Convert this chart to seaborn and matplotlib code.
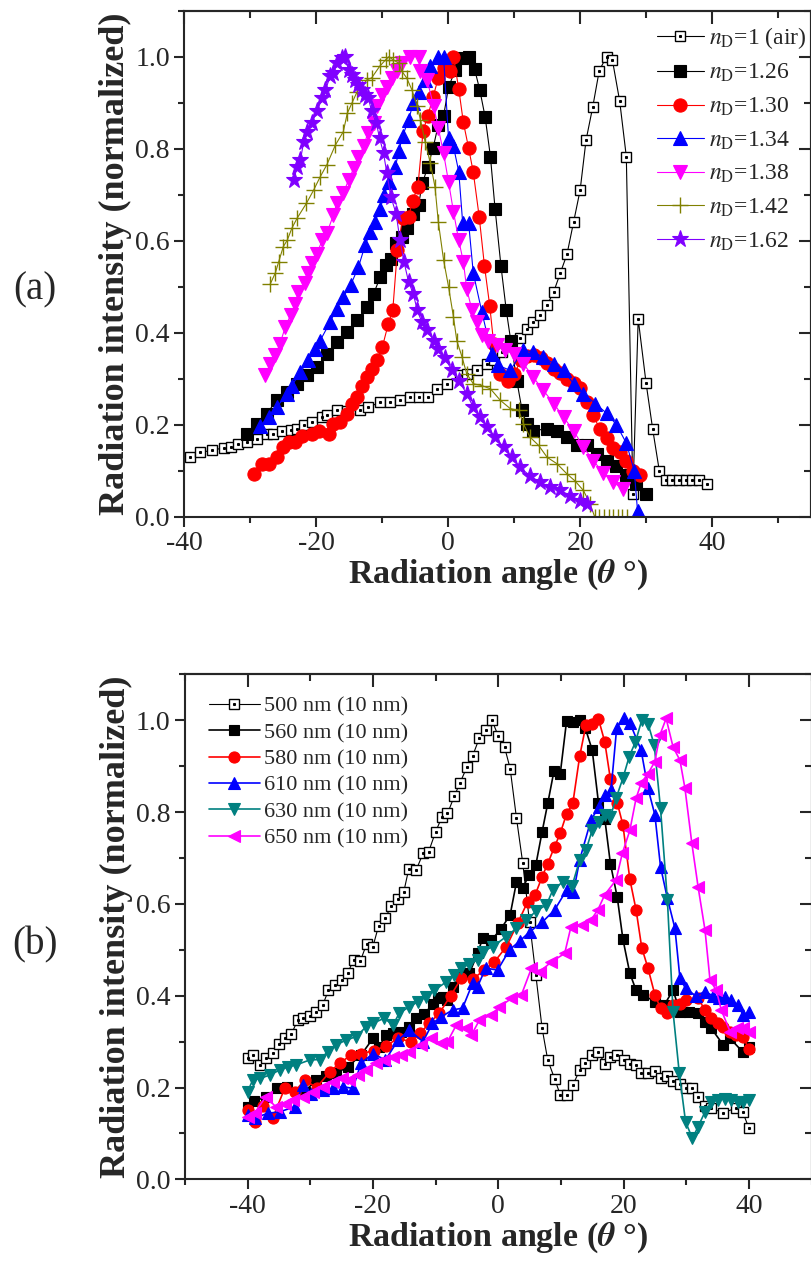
import numpy as np
import pandas as pd
import matplotlib
matplotlib.use("Agg")
import matplotlib.pyplot as plt
from matplotlib.ticker import MultipleLocator, FuncFormatter
from matplotlib.legend_handler import HandlerTuple
import seaborn as sns

# ---------------- panel (a): refractive index series ----------------
air_x = [-39.1, -37.6, -35.8, -34.0, -33.0, -31.8, -30.5, -29.0, -27.5, -26.5, -25.2, -23.9,
         -22.9, -21.9, -20.7, -19.2, -18.4, -16.9, -15.3, -13.3, -12.1, -10.3, -8.8, -7.3,
         -5.8, -4.5, -3.0, -1.7, -0.2, 1.8, 2.8, 4.3, 5.9, 6.9, 8.1, 9.4, 10.9, 11.9, 12.9,
         13.9, 15.0, 16.0, 17.0, 18.0, 19.0, 20.0, 20.9, 21.9, 22.9, 24.0, 24.9, 26.0, 27.0,
         28.0, 28.8, 30.0, 31.0, 32.0, 33.0, 34.0, 35.0, 36.0, 37.0, 38.0, 39.3]
air_y = [0.129, 0.140, 0.144, 0.150, 0.151, 0.158, 0.162, 0.169, 0.180, 0.180, 0.187, 0.189,
         0.191, 0.200, 0.205, 0.216, 0.220, 0.231, 0.230, 0.231, 0.238, 0.249, 0.249, 0.253,
         0.260, 0.260, 0.260, 0.278, 0.289, 0.307, 0.311, 0.318, 0.333, 0.340, 0.358, 0.376,
         0.389, 0.409, 0.423, 0.438, 0.460, 0.489, 0.530, 0.570, 0.640, 0.710, 0.819, 0.890,
         0.970, 1.000, 0.992, 0.903, 0.783, 0.050, 0.430, 0.290, 0.190, 0.100, 0.080, 0.080,
         0.080, 0.080, 0.080, 0.080, 0.070]

n126_x = [-30.5, -29.0, -27.5, -26.0, -24.4, -22.9, -21.4, -19.9, -18.4, -16.9, -15.3, -13.8,
          -12.3, -11.3, -10.3, -9.4, -8.7, -7.9, -7.0, -6.3, -5.3, -4.5, -3.9, -3.1, -2.3,
          -1.5, -0.7, 0.05, 1.1, 2.1, 3.2, 4.0, 4.8, 5.6, 6.4, 7.1, 8.0, 8.8, 9.5, 10.4, 11.2,
          11.9, 12.9, 15.0, 16.5, 18.0, 19.5, 21.0, 22.5, 24.0, 25.5, 27.0, 28.5, 30.0]
n126_y = [0.180, 0.202, 0.224, 0.253, 0.271, 0.289, 0.307, 0.325, 0.354, 0.380, 0.401, 0.427,
          0.456, 0.485, 0.521, 0.547, 0.561, 0.594, 0.609, 0.627, 0.659, 0.678, 0.725, 0.761,
          0.801, 0.852, 0.871, 0.934, 0.972, 0.997, 1.000, 0.973, 0.927, 0.869, 0.783, 0.670,
          0.545, 0.449, 0.381, 0.296, 0.231, 0.202, 0.187, 0.191, 0.187, 0.173, 0.155, 0.155,
          0.137, 0.120, 0.110, 0.090, 0.070, 0.050]

n130_x = [-29.5, -28.2, -27.2, -26.0, -25.0, -24.2, -23.2, -22.2, -20.7, -19.6, -18.1, -17.4,
          -16.4, -15.3, -14.6, -13.8, -13.1, -12.3, -11.6, -10.8, -10.0, -9.1, -8.4, -7.7,
          -6.9, -6.0, -5.4, -4.6, -3.8, -3.1, -2.3, -1.5, -0.7, 0.2, 0.8, 1.6, 2.3, 3.1, 3.8,
          4.7, 5.5, 6.3, 6.9, 7.9, 9.1, 10.0, 11.0, 12.0, 13.0, 14.0, 15.0, 16.0, 17.0, 18.0,
          19.0, 20.0, 21.0, 22.0, 23.0, 24.0, 25.0, 26.0, 27.0, 28.0, 29.0]
n130_y = [0.093, 0.115, 0.115, 0.129, 0.151, 0.162, 0.162, 0.176, 0.180, 0.187, 0.180, 0.202,
          0.205, 0.224, 0.246, 0.260, 0.285, 0.303, 0.322, 0.340, 0.368, 0.418, 0.449, 0.580,
          0.649, 0.652, 0.687, 0.717, 0.839, 0.871, 0.912, 0.954, 0.975, 0.968, 1.000, 0.930,
          0.857, 0.801, 0.749, 0.652, 0.545, 0.458, 0.376, 0.311, 0.296, 0.310, 0.340, 0.350,
          0.352, 0.345, 0.335, 0.322, 0.312, 0.300, 0.290, 0.280, 0.250, 0.220, 0.190, 0.170,
          0.150, 0.140, 0.120, 0.100, 0.090]

n134_x = [-28.5, -27.2, -26.0, -24.4, -23.7, -22.4, -21.2, -20.2, -19.4, -17.9, -16.9, -15.9,
          -14.8, -13.6, -12.6, -11.8, -11.1, -10.3, -9.7, -9.0, -8.0, -7.5, -6.9, -6.0, -5.3,
          -4.5, -3.5, -2.7, -1.5, -0.7, 0.05, 0.8, 1.6, 2.2, 3.1, 3.8, 5.1, 6.6, 7.6, 9.4,
          11.4, 12.9, 14.4, 16.0, 17.5, 19.0, 20.5, 22.3, 24.0, 25.5, 27.0, 28.2, 28.7]
n134_y = [0.198, 0.216, 0.238, 0.267, 0.285, 0.314, 0.340, 0.365, 0.383, 0.423, 0.452, 0.478,
          0.503, 0.543, 0.590, 0.619, 0.641, 0.670, 0.699, 0.728, 0.761, 0.794, 0.828, 0.863,
          0.899, 0.924, 0.950, 0.979, 1.000, 1.000, 0.823, 0.805, 0.750, 0.638, 0.638, 0.530,
          0.445, 0.354, 0.329, 0.318, 0.362, 0.358, 0.347, 0.333, 0.318, 0.289, 0.267, 0.246,
          0.225, 0.200, 0.160, 0.100, 0.013]

n138_x = [-27.7, -27.0, -26.2, -25.5, -24.7, -23.9, -23.2, -22.7, -21.7, -21.2, -20.7, -19.9,
          -19.1, -18.4, -17.4, -16.9, -15.9, -15.1, -14.3, -13.6, -12.8, -12.2, -11.3, -10.8,
          -10.0, -9.3, -8.5, -7.8, -7.0, -5.8, -4.5, -4.2, -3.2, -2.2, -1.5, -0.7, 0.05, 0.8,
          1.6, 2.3, 2.8, 3.6, 4.3, 5.1, 6.1, 7.4, 8.6, 9.9, 11.4, 12.9, 14.4, 16.0, 17.5, 19.0,
          20.5, 22.0, 23.5, 25.0, 26.5]
n138_y = [0.307, 0.333, 0.351, 0.376, 0.412, 0.438, 0.463, 0.489, 0.507, 0.529, 0.551, 0.572,
          0.601, 0.616, 0.656, 0.681, 0.703, 0.732, 0.758, 0.783, 0.805, 0.834, 0.856, 0.892,
          0.917, 0.935, 0.954, 0.968, 0.986, 1.000, 1.000, 0.968, 0.950, 0.892, 0.845, 0.790,
          0.728, 0.663, 0.601, 0.554, 0.496, 0.449, 0.423, 0.394, 0.383, 0.373, 0.362, 0.354,
          0.333, 0.303, 0.275, 0.246, 0.216, 0.187, 0.151, 0.122, 0.095, 0.075, 0.060]

n142_x = [-27.0, -26.2, -25.7, -25.0, -24.4, -23.7, -22.9, -21.5, -20.4, -19.4, -18.4, -17.1,
          -15.9, -15.3, -14.6, -13.8, -12.3, -11.6, -10.4, -9.5, -9.0, -8.3, -7.5, -7.0, -6.3,
          -5.5, -4.7, -4.2, -3.5, -2.7, -2.0, -1.5, -0.7, 0.05, 0.8, 1.3, 2.1, 2.8, 3.8, 5.1,
          6.4, 7.9, 9.4, 10.7, 11.4, 12.4, 13.7, 15.0, 16.5, 18.0, 19.2, 20.5, 21.5, 22.2,
          22.9, 23.6, 24.3, 25.0, 25.7, 26.4, 27.1]
n142_y = [0.505, 0.530, 0.554, 0.587, 0.601, 0.627, 0.649, 0.681, 0.710, 0.739, 0.765, 0.808,
          0.837, 0.877, 0.899, 0.924, 0.950, 0.954, 0.979, 0.993, 1.000, 0.993, 0.986, 0.968,
          0.954, 0.928, 0.892, 0.863, 0.815, 0.768, 0.717, 0.641, 0.558, 0.500, 0.434, 0.383,
          0.347, 0.311, 0.289, 0.285, 0.278, 0.253, 0.235, 0.231, 0.202, 0.173, 0.155, 0.129,
          0.115, 0.093, 0.078, 0.057, 0.028, 0.0, 0.0, 0.0, 0.0, 0.0, 0.0, 0.0, 0.0]

n162_x = [-23.4, -22.9, -22.4, -21.9, -21.4, -20.7, -19.9, -19.1, -18.6, -17.9, -17.4, -16.9,
          -16.1, -15.6, -15.1, -14.6, -14.1, -13.6, -13.1, -12.6, -12.1, -11.6, -10.9, -10.4,
          -9.8, -9.3, -8.7, -7.9, -7.3, -6.7, -6.0, -5.3, -4.7, -4.0, -3.2, -2.2, -1.5, -0.5,
          0.6, 1.6, 2.8, 3.8, 4.8, 5.9, 7.1, 8.4, 9.6, 10.9, 12.4, 13.9, 15.5, 17.0, 18.5,
          20.0, 21.0]
n162_y = [0.732, 0.761, 0.776, 0.815, 0.837, 0.856, 0.881, 0.910, 0.928, 0.957, 0.964, 0.986,
          0.997, 1.000, 0.972, 0.961, 0.950, 0.939, 0.928, 0.917, 0.910, 0.881, 0.856, 0.823,
          0.790, 0.747, 0.696, 0.659, 0.601, 0.554, 0.510, 0.485, 0.449, 0.423, 0.405, 0.383,
          0.365, 0.344, 0.318, 0.296, 0.267, 0.238, 0.216, 0.195, 0.173, 0.151, 0.129, 0.107,
          0.089, 0.075, 0.064, 0.057, 0.046, 0.035, 0.028]

# ---------------- panel (b): wavelength series ----------------
w500_x = [-40.0, -39.1, -38.1, -37.0, -36.0, -35.0, -34.0, -33.0, -32.0, -31.1, -30.0, -29.1,
          -28.0, -27.1, -26.1, -25.0, -24.0, -23.1, -22.0, -21.0, -20.0, -19.1, -18.0, -17.1,
          -16.0, -15.1, -14.3, -13.1, -12.0, -11.1, -10.0, -9.0, -8.1, -7.0, -6.1, -5.0, -4.1,
          -3.0, -2.0, -1.0, 0.0, 1.0, 1.9, 2.9, 3.9, 5.0, 6.0, 7.0, 7.9, 9.0, 9.9, 11.0, 11.9,
          13.0, 13.9, 15.0, 16.0, 17.0, 17.8, 19.0, 20.0, 21.0, 22.0, 22.8, 23.9, 25.0, 25.9,
          26.9, 27.9, 29.0, 29.9, 31.0, 31.9, 33.0, 34.0, 35.9, 37.9, 39.0, 40.0]
w500_y = [0.264, 0.271, 0.249, 0.265, 0.275, 0.295, 0.309, 0.317, 0.347, 0.351, 0.356, 0.365,
          0.380, 0.412, 0.423, 0.434, 0.450, 0.478, 0.476, 0.513, 0.507, 0.552, 0.570, 0.595,
          0.611, 0.625, 0.675, 0.674, 0.710, 0.714, 0.757, 0.789, 0.797, 0.835, 0.864, 0.898,
          0.922, 0.962, 0.979, 1.000, 0.966, 0.942, 0.895, 0.788, 0.690, 0.560, 0.445, 0.329,
          0.260, 0.219, 0.184, 0.184, 0.205, 0.238, 0.253, 0.271, 0.278, 0.251, 0.267, 0.271,
          0.260, 0.251, 0.250, 0.232, 0.231, 0.236, 0.220, 0.226, 0.214, 0.207, 0.198, 0.200,
          0.180, 0.160, 0.155, 0.145, 0.155, 0.147, 0.112]

w560_x = [-40.0, -39.0, -37.0, -35.3, -33.7, -30.9, -29.1, -27.5, -25.9, -24.0, -21.9, -20.0,
          -19.0, -17.9, -16.8, -15.5, -14.2, -13.1, -11.8, -10.4, -9.6, -8.8, -8.1, -7.3,
          -5.9, -4.6, -3.3, -2.5, -1.1, 0.4, 1.9, 2.9, 3.9, 4.9, 6.0, 7.0, 7.9, 8.9, 9.9,
          10.9, 11.9, 13.0, 13.9, 15.0, 16.0, 17.0, 17.9, 19.0, 19.9, 21.0, 22.0, 23.1, 25.0,
          26.5, 27.9, 29.0, 30.5, 31.9, 33.0, 34.0, 35.9, 37.0, 39.0, 40.0]
w560_y = [0.157, 0.170, 0.180, 0.198, 0.202, 0.191, 0.216, 0.225, 0.231, 0.245, 0.271, 0.307,
          0.289, 0.314, 0.318, 0.322, 0.332, 0.351, 0.360, 0.383, 0.394, 0.398, 0.391, 0.420,
          0.445, 0.449, 0.492, 0.525, 0.521, 0.545, 0.576, 0.647, 0.634, 0.663, 0.685, 0.757,
          0.819, 0.890, 0.884, 0.998, 0.997, 1.000, 0.983, 0.935, 0.820, 0.786, 0.688, 0.614,
          0.523, 0.449, 0.412, 0.402, 0.387, 0.380, 0.412, 0.365, 0.365, 0.362, 0.343, 0.329,
          0.293, 0.307, 0.278, 0.289]

w580_x = [-40.0, -38.9, -37.5, -36.0, -34.1, -32.5, -30.9, -29.0, -26.9, -25.3, -23.5, -21.9,
          -19.9, -17.9, -16.0, -14.0, -12.5, -11.0, -9.4, -7.6, -5.9, -4.1, -2.3, -0.6, 1.3,
          3.1, 4.7, 5.9, 7.0, 7.9, 9.0, 9.9, 10.9, 11.9, 13.0, 14.0, 15.0, 16.0, 17.0, 17.9,
          19.0, 19.9, 21.0, 22.0, 22.9, 23.9, 25.0, 25.9, 26.9, 27.9, 29.0, 30.0, 31.9, 33.0,
          34.0, 35.1, 35.9, 37.0, 38.0, 39.1, 40.0]
w580_y = [0.150, 0.125, 0.160, 0.133, 0.198, 0.191, 0.216, 0.200, 0.234, 0.253, 0.271, 0.274,
          0.280, 0.291, 0.307, 0.300, 0.318, 0.340, 0.362, 0.400, 0.438, 0.436, 0.455, 0.474,
          0.507, 0.558, 0.605, 0.620, 0.659, 0.688, 0.725, 0.754, 0.796, 0.819, 0.922, 0.990,
          0.993, 1.003, 0.953, 0.872, 0.820, 0.772, 0.654, 0.587, 0.505, 0.460, 0.402, 0.373,
          0.362, 0.380, 0.383, 0.391, 0.394, 0.369, 0.351, 0.340, 0.332, 0.322, 0.314, 0.311,
          0.283]

w610_x = [-40.0, -38.9, -36.8, -34.9, -32.5, -31.2, -29.9, -28.0, -26.4, -24.8, -23.2, -21.9,
          -20.0, -18.0, -16.0, -14.2, -12.0, -10.5, -9.1, -7.3, -5.7, -4.1, -3.3, -2.0, -0.1,
          1.8, 3.5, 5.0, 7.0, 9.0, 10.9, 12.0, 13.0, 14.8, 16.1, 17.0, 18.0, 18.9, 20.0, 21.0,
          22.8, 23.9, 25.0, 25.9, 27.0, 28.2, 29.0, 29.9, 31.5, 33.0, 34.2, 35.2, 36.2, 37.2,
          38.2, 39.1, 40.0]
w610_y = [0.140, 0.133, 0.144, 0.147, 0.158, 0.205, 0.187, 0.195, 0.198, 0.202, 0.198, 0.253,
          0.274, 0.260, 0.303, 0.325, 0.300, 0.340, 0.354, 0.369, 0.373, 0.427, 0.420, 0.460,
          0.456, 0.500, 0.520, 0.539, 0.560, 0.587, 0.630, 0.625, 0.696, 0.783, 0.812, 0.837,
          0.848, 0.983, 1.005, 0.995, 0.935, 0.852, 0.794, 0.681, 0.612, 0.547, 0.438, 0.416,
          0.400, 0.409, 0.400, 0.395, 0.398, 0.391, 0.380, 0.358, 0.365]

w630_x = [-40.0, -39.2, -38.0, -36.5, -34.9, -33.5, -32.3, -30.1, -28.5, -27.2, -25.9, -24.3,
          -22.7, -21.1, -20.0, -18.2, -16.8, -15.8, -14.2, -12.8, -11.5, -10.2, -8.3, -7.0,
          -5.9, -4.6, -3.3, -2.5, -0.9, 1.3, 2.9, 4.5, 6.1, 7.7, 8.7, 10.3, 11.8, 13.0, 14.0,
          15.0, 16.1, 17.0, 17.9, 18.8, 19.9, 20.9, 21.9, 22.9, 23.9, 24.9, 25.9, 27.0, 27.9,
          28.9, 29.9, 31.0, 31.9, 33.0, 34.0, 35.1, 36.2, 37.2, 38.3, 39.1, 40.0]
w630_y = [0.191, 0.216, 0.220, 0.227, 0.238, 0.245, 0.249, 0.260, 0.261, 0.278, 0.293, 0.303,
          0.311, 0.332, 0.340, 0.351, 0.336, 0.362, 0.376, 0.387, 0.398, 0.412, 0.430, 0.445,
          0.460, 0.469, 0.478, 0.496, 0.507, 0.529, 0.547, 0.565, 0.585, 0.598, 0.630, 0.648,
          0.640, 0.696, 0.717, 0.761, 0.779, 0.794, 0.790, 0.830, 0.874, 0.921, 0.953, 1.000,
          0.993, 0.946, 0.808, 0.608, 0.365, 0.231, 0.125, 0.089, 0.115, 0.147, 0.169, 0.173,
          0.176, 0.173, 0.169, 0.169, 0.173]

w650_x = [-40.0, -38.9, -37.1, -35.5, -34.0, -32.8, -31.2, -29.6, -28.0, -26.4, -25.0, -23.8,
          -22.4, -21.1, -19.5, -18.2, -16.8, -15.5, -14.2, -12.3, -10.7, -9.1, -8.1, -6.7,
          -5.1, -4.3, -3.0, -1.1, 0.2, 2.1, 3.7, 5.3, 6.6, 8.5, 10.6, 11.6, 13.3, 14.8, 15.9,
          17.0, 18.8, 19.8, 21.0, 22.0, 22.8, 23.9, 25.0, 25.8, 26.8, 27.9, 29.0, 29.8, 30.9,
          31.9, 33.0, 33.8, 34.8, 35.6, 37.0, 38.1, 39.1, 40.0]
w650_y = [0.136, 0.144, 0.180, 0.158, 0.165, 0.173, 0.180, 0.191, 0.202, 0.213, 0.220, 0.216,
          0.227, 0.238, 0.253, 0.260, 0.267, 0.271, 0.278, 0.293, 0.307, 0.296, 0.300, 0.336,
          0.329, 0.314, 0.347, 0.358, 0.376, 0.394, 0.402, 0.460, 0.452, 0.474, 0.492, 0.550,
          0.554, 0.565, 0.587, 0.620, 0.652, 0.710, 0.760, 0.830, 0.863, 0.884, 0.910, 0.968,
          1.004, 0.942, 0.913, 0.852, 0.732, 0.637, 0.543, 0.434, 0.412, 0.369, 0.322, 0.329,
          0.329, 0.322]

labels_a = [r"$n_\mathrm{D}$=1 (air)", r"$n_\mathrm{D}$=1.26", r"$n_\mathrm{D}$=1.30",
            r"$n_\mathrm{D}$=1.34", r"$n_\mathrm{D}$=1.38", r"$n_\mathrm{D}$=1.42",
            r"$n_\mathrm{D}$=1.62"]
labels_b = ["500 nm (10 nm)", "560 nm (10 nm)", "580 nm (10 nm)", "610 nm (10 nm)",
            "630 nm (10 nm)", "650 nm (10 nm)"]

# ---------------- styling ----------------
sns.set_style("ticks")
plt.rcParams["font.family"] = ["Liberation Serif", "DejaVu Serif"]
plt.rcParams["mathtext.fontset"] = "stix"
plt.rcParams["axes.linewidth"] = 1.5
for k in ("xtick.major.width", "ytick.major.width", "xtick.minor.width", "ytick.minor.width"):
    plt.rcParams[k] = 1.5

fig = plt.figure(figsize=(8.12, 12.62), dpi=100)
ax_a = fig.add_axes([0.227, 0.5906, 0.7718, 0.4009])
ax_b = fig.add_axes([0.2278, 0.0655, 0.7716, 0.4001])

TICK_FS = 20
XLABEL_FS = 24.5
YLABEL_FS = 26


def draw(ax, x, y, label, color, marker, ms, lw=0.8, mfc=None, mew=0.8):
    sns.lineplot(x=x, y=y, ax=ax, color=color, lw=lw, marker=marker, ms=ms,
                 markerfacecolor=color if mfc is None else mfc,
                 markeredgecolor=color, markeredgewidth=mew,
                 sort=False, estimator=None, label=label)
    return ax.lines[-1]


def open_square(ax, x, y, label, ms):
    h1 = draw(ax, x, y, label, "black", "s", ms, mfc="white", mew=1.0)
    ax.plot(x, y, ls="none", marker="s", ms=1.2, color="black")
    h2 = ax.lines[-1]
    return (h1, h2)


def style_axes(ax, xlim, xmaj, ymaj=0.2):
    ax.set_xlim(*xlim)
    ax.set_ylim(0, 1.1)
    ax.xaxis.set_major_locator(MultipleLocator(xmaj))
    ax.xaxis.set_minor_locator(MultipleLocator(xmaj / 2))
    ax.yaxis.set_major_locator(MultipleLocator(ymaj))
    ax.yaxis.set_minor_locator(MultipleLocator(ymaj / 2))
    ax.xaxis.set_major_formatter(FuncFormatter(lambda v, p: f"{v:.0f}"))
    ax.yaxis.set_major_formatter(FuncFormatter(lambda v, p: f"{v:.1f}"))
    ax.tick_params(which="both", direction="out", top=False, right=False,
                   labelsize=TICK_FS)
    ax.tick_params(which="major", length=7)
    ax.tick_params(which="minor", length=4)
    for side in ("top", "right", "left", "bottom"):
        ax.spines[side].set_visible(True)
        ax.spines[side].set_linewidth(1.5)
    # mirrored inward ticks on top and right
    top = ax.secondary_xaxis("top")
    top.xaxis.set_major_locator(MultipleLocator(xmaj))
    top.xaxis.set_minor_locator(MultipleLocator(xmaj / 2))
    top.tick_params(which="both", direction="in", labeltop=False)
    top.tick_params(which="major", length=9)
    top.tick_params(which="minor", length=5)
    right = ax.secondary_yaxis("right")
    right.yaxis.set_major_locator(MultipleLocator(ymaj))
    right.yaxis.set_minor_locator(MultipleLocator(ymaj / 2))
    right.tick_params(which="both", direction="in", labelright=False)
    right.tick_params(which="major", length=9)
    right.tick_params(which="minor", length=5)
    ax.set_xlabel(r"Radiation angle ($\boldsymbol{\theta}$ °)", fontsize=XLABEL_FS,
                  fontweight="bold", labelpad=1)
    ax.set_ylabel("Radiation intensity (normalized)", fontsize=YLABEL_FS,
                  fontweight="bold", labelpad=2)


# ---------------- panel (a) ----------------
ha = []
ha.append(open_square(ax_a, air_x, air_y, labels_a[0], 7))
ha.append(draw(ax_a, n126_x, n126_y, labels_a[1], "black", "s", 8.5))
ha.append(draw(ax_a, n130_x, n130_y, labels_a[2], "#ff0000", "o", 9.5))
ha.append(draw(ax_a, n134_x, n134_y, labels_a[3], "#0000ff", "^", 10))
ha.append(draw(ax_a, n138_x, n138_y, labels_a[4], "#ff00ff", "v", 10))
ha.append(draw(ax_a, n142_x, n142_y, labels_a[5], "#808000", "+", 11, mew=1.0))
ha.append(draw(ax_a, n162_x, n162_y, labels_a[6], "#8000ff", "*", 12.5))
style_axes(ax_a, (-40, 55), 20)
ax_a.legend(ha, labels_a, loc="upper left", bbox_to_anchor=(0.754, 0.972),
            frameon=False, fontsize=17, handlelength=2.0, handletextpad=0.2,
            labelspacing=0.48, borderpad=0, borderaxespad=0,
            handler_map={tuple: HandlerTuple(ndivide=1)})

# ---------------- panel (b) ----------------
hb = []
hb.append(open_square(ax_b, w500_x, w500_y, labels_b[0], 6.5))
hb.append(draw(ax_b, w560_x, w560_y, labels_b[1], "black", "s", 7.5, lw=1.2))
hb.append(draw(ax_b, w580_x, w580_y, labels_b[2], "#ff0000", "o", 8, lw=1.2))
hb.append(draw(ax_b, w610_x, w610_y, labels_b[3], "#0000ff", "^", 8.5, lw=1.2))
hb.append(draw(ax_b, w630_x, w630_y, labels_b[4], "#008080", "v", 8.5, lw=1.2))
hb.append(draw(ax_b, w650_x, w650_y, labels_b[5], "#ff00ff", "<", 8.5, lw=1.2))
style_axes(ax_b, (-50, 50), 20)
ax_b.legend(hb, labels_b, loc="upper left", bbox_to_anchor=(0.038, 0.957),
            frameon=False, fontsize=16, handlelength=2.3, handletextpad=0.2,
            labelspacing=0.26, borderpad=0, borderaxespad=0,
            handler_map={tuple: HandlerTuple(ndivide=1)})

fig.text(35 / 812, 1 - 290 / 1262, "(a)", fontsize=28, ha="center", va="center")
fig.text(35 / 812, 1 - 945 / 1262, "(b)", fontsize=28, ha="center", va="center")

fig.savefig("out.png", dpi=100)
